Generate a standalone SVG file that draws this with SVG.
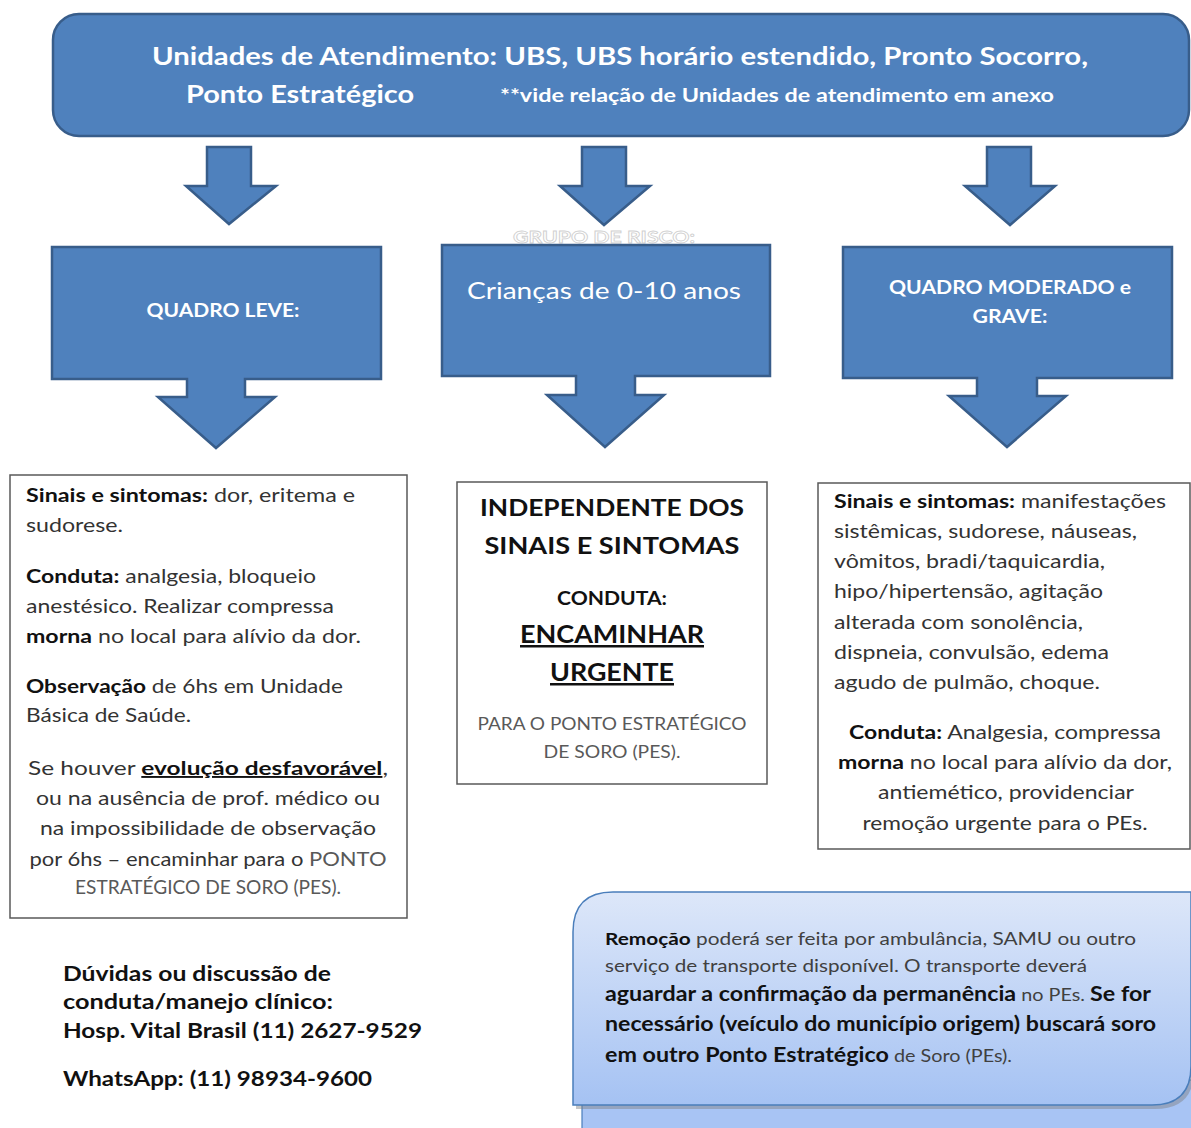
<svg xmlns="http://www.w3.org/2000/svg" width="1191" height="1128" viewBox="0 0 1191 1128">
<defs>
<linearGradient id="gBlue" x1="0" y1="0" x2="0" y2="1">
<stop offset="0" stop-color="#dde7f9"/>
<stop offset="1" stop-color="#a5c2f3"/>
</linearGradient>
<style>
text{font-family:Lato,"Liberation Sans",sans-serif;}
.blue{fill:#4f81bd;stroke:#385d8a;stroke-width:2.5;stroke-linejoin:miter;}
.wb{fill:#fff;font-weight:bold;}
.box{fill:#fff;stroke:#595959;stroke-width:1.5;}
.t{fill:#333;font-size:19px;}
.b{fill:#111;font-weight:bold;}
.g{fill:#595959;}
.u{text-decoration:underline;}
</style>
</defs>
<rect width="1191" height="1128" fill="#fff"/>

<g id="banner">
<rect x="53" y="14" width="1136" height="122" rx="26" class="blue" stroke-width="3"/>
<text class="wb" x="620" y="65" font-size="25" text-anchor="middle" textLength="936" lengthAdjust="spacingAndGlyphs">Unidades de Atendimento: UBS, UBS horário estendido, Pronto Socorro,</text>
<text class="wb" x="186" y="103" font-size="25" textLength="228" lengthAdjust="spacingAndGlyphs">Ponto Estratégico</text>
<text class="wb" x="500" y="102" font-size="19" textLength="554" lengthAdjust="spacingAndGlyphs">**vide relação de Unidades de atendimento em anexo</text>
</g>

<g id="connectors">
<path class="blue" d="M207,147 H251 V186 H276 L229,224 L186,186 H207 Z"/>
<path class="blue" d="M582,147 H626 V186 H650 L604,225 L560,186 H582 Z"/>
<path class="blue" d="M987,147 H1031 V186 H1055 L1010,225 L965,186 H987 Z"/>
</g>

<g id="quadro-leve">
<path class="blue" d="M52,247 H381 V379 H245 V397 H275 L216,448 L158,397 H187 V379 H52 Z"/>
<text class="wb" x="223" y="317" font-size="19" text-anchor="middle" textLength="153" lengthAdjust="spacingAndGlyphs">QUADRO LEVE:</text>
</g>

<g id="grupo-risco">
<text x="604" y="243" font-size="17" font-weight="bold" fill="#fff" stroke="#d0d0d0" stroke-width="0.8" text-anchor="middle" textLength="182" lengthAdjust="spacingAndGlyphs">GRUPO DE RISCO:</text>
</g>

<g id="criancas">
<path class="blue" d="M442,245 H770 V376 H635 V395 H664 L605,447 L547,395 H576 V376 H442 Z"/>
<text x="604" y="299" font-size="24" fill="#fff" text-anchor="middle" textLength="274" lengthAdjust="spacingAndGlyphs">Crianças de 0-10 anos</text>
</g>

<g id="quadro-moderado">
<path class="blue" d="M843,247 H1172 V378 H1037 V396 H1066 L1007,447 L949,396 H977 V378 H843 Z"/>
<text class="wb" x="1010" y="294" font-size="19" text-anchor="middle" textLength="242" lengthAdjust="spacingAndGlyphs">QUADRO MODERADO e</text>
<text class="wb" x="1010" y="323" font-size="19" text-anchor="middle" textLength="75" lengthAdjust="spacingAndGlyphs">GRAVE:</text>
</g>

<g id="leve-texto">
<rect class="box" x="10" y="475" width="397" height="443"/>
<text class="t" x="26" y="502" textLength="329" lengthAdjust="spacingAndGlyphs"><tspan class="b">Sinais e sintomas:</tspan> dor, eritema e</text>
<text class="t" x="26" y="532" textLength="97" lengthAdjust="spacingAndGlyphs">sudorese.</text>
<text class="t" x="26" y="583" textLength="290" lengthAdjust="spacingAndGlyphs"><tspan class="b">Conduta:</tspan> analgesia, bloqueio</text>
<text class="t" x="26" y="613" textLength="308" lengthAdjust="spacingAndGlyphs">anestésico. Realizar compressa</text>
<text class="t" x="26" y="643" textLength="335" lengthAdjust="spacingAndGlyphs"><tspan class="b">morna</tspan> no local para alívio da dor.</text>
<text class="t" x="26" y="693" textLength="317" lengthAdjust="spacingAndGlyphs"><tspan class="b">Observação</tspan> de 6hs em Unidade</text>
<text class="t" x="26" y="722" textLength="165" lengthAdjust="spacingAndGlyphs">Básica de Saúde.</text>
<text class="t" x="208" y="775" text-anchor="middle" textLength="360" lengthAdjust="spacingAndGlyphs">Se houver <tspan class="b u">evolução desfavorável</tspan>,</text>
<text class="t" x="208" y="805" text-anchor="middle" textLength="344" lengthAdjust="spacingAndGlyphs">ou na ausência de prof. médico ou</text>
<text class="t" x="208" y="835" text-anchor="middle" textLength="336" lengthAdjust="spacingAndGlyphs">na impossibilidade de observação</text>
<text class="t" x="208" y="866" text-anchor="middle" textLength="357" lengthAdjust="spacingAndGlyphs">por 6hs – encaminhar para o <tspan class="g">PONTO</tspan></text>
<text class="t g" x="208" y="894" text-anchor="middle" font-size="18" textLength="266" lengthAdjust="spacingAndGlyphs">ESTRATÉGICO DE SORO (PES).</text>
</g>

<g id="criancas-texto">
<rect class="box" x="457" y="482" width="310" height="302"/>
<text class="b" x="612" y="516" font-size="23" text-anchor="middle" textLength="264" lengthAdjust="spacingAndGlyphs">INDEPENDENTE DOS</text>
<text class="b" x="612" y="554" font-size="23" text-anchor="middle" textLength="255" lengthAdjust="spacingAndGlyphs">SINAIS E SINTOMAS</text>
<text class="b" x="612" y="605" font-size="19" text-anchor="middle" textLength="110" lengthAdjust="spacingAndGlyphs">CONDUTA:</text>
<text class="b u" x="612" y="643" font-size="25" text-anchor="middle" textLength="184" lengthAdjust="spacingAndGlyphs">ENCAMINHAR</text>
<text class="b u" x="612" y="681" font-size="25" text-anchor="middle" textLength="124" lengthAdjust="spacingAndGlyphs">URGENTE</text>
<text class="g" x="612" y="730" font-size="17" text-anchor="middle" textLength="269" lengthAdjust="spacingAndGlyphs">PARA O PONTO ESTRATÉGICO</text>
<text class="g" x="612" y="758" font-size="17" text-anchor="middle" textLength="137" lengthAdjust="spacingAndGlyphs">DE SORO (PES).</text>
</g>

<g id="moderado-texto">
<rect class="box" x="818" y="483" width="372" height="366"/>
<text class="t" x="834" y="508" textLength="332" lengthAdjust="spacingAndGlyphs"><tspan class="b">Sinais e sintomas:</tspan> manifestações</text>
<text class="t" x="834" y="538" textLength="303" lengthAdjust="spacingAndGlyphs">sistêmicas, sudorese, náuseas,</text>
<text class="t" x="834" y="568" textLength="271" lengthAdjust="spacingAndGlyphs">vômitos, bradi/taquicardia,</text>
<text class="t" x="834" y="598" textLength="269" lengthAdjust="spacingAndGlyphs">hipo/hipertensão, agitação</text>
<text class="t" x="834" y="629" textLength="249" lengthAdjust="spacingAndGlyphs">alterada com sonolência,</text>
<text class="t" x="834" y="659" textLength="275" lengthAdjust="spacingAndGlyphs">dispneia, convulsão, edema</text>
<text class="t" x="834" y="689" textLength="266" lengthAdjust="spacingAndGlyphs">agudo de pulmão, choque.</text>
<text class="t" x="1005" y="739" text-anchor="middle" textLength="312" lengthAdjust="spacingAndGlyphs"><tspan class="b">Conduta:</tspan> Analgesia, compressa</text>
<text class="t" x="1005" y="769" text-anchor="middle" textLength="334" lengthAdjust="spacingAndGlyphs"><tspan class="b">morna</tspan> no local para alívio da dor,</text>
<text class="t" x="1006" y="799" text-anchor="middle" textLength="256" lengthAdjust="spacingAndGlyphs">antiemético, providenciar</text>
<text class="t" x="1005" y="830" text-anchor="middle" textLength="285" lengthAdjust="spacingAndGlyphs">remoção urgente para o PEs.</text>
</g>

<g id="contato">
<text class="b" x="63" y="981" font-size="20" textLength="268" lengthAdjust="spacingAndGlyphs">Dúvidas ou discussão de</text>
<text class="b" x="63" y="1009" font-size="20" textLength="270" lengthAdjust="spacingAndGlyphs">conduta/manejo clínico:</text>
<text class="b" x="63" y="1038" font-size="20" textLength="359" lengthAdjust="spacingAndGlyphs">Hosp. Vital Brasil (11) 2627-9529</text>
<text class="b" x="63" y="1086" font-size="20" textLength="309" lengthAdjust="spacingAndGlyphs">WhatsApp: (11) 98934-9600</text>
</g>

<g id="remocao">
<rect x="582" y="1080" width="612" height="52" fill="#a8c4f4" stroke="#4a7ebb" stroke-width="1.2"/>
<path d="M576,936 Q576,896 616,896 H1194 V1070 Q1194,1109 1155,1109 H576 Z" fill="#7f7f7f" opacity="0.45"/>
<path d="M573,932 Q573,892 613,892 H1191 V1066 Q1191,1105 1152,1105 H573 Z" fill="url(#gBlue)" stroke="#4a7ebb" stroke-width="1.5"/>
<text x="605" y="945" font-size="17" fill="#404040" textLength="531" lengthAdjust="spacingAndGlyphs"><tspan class="b">Remoção</tspan> poderá ser feita por ambulância, SAMU ou outro</text>
<text x="605" y="972" font-size="17" fill="#404040" textLength="482" lengthAdjust="spacingAndGlyphs">serviço de transporte disponível. O transporte deverá</text>
<text x="605" y="1001" font-size="20" fill="#404040" textLength="546" lengthAdjust="spacingAndGlyphs"><tspan class="b">aguardar a confirmação da permanência</tspan><tspan font-size="17"> no PEs. </tspan><tspan class="b">Se for</tspan></text>
<text class="b" x="605" y="1031" font-size="20" textLength="551" lengthAdjust="spacingAndGlyphs">necessário (veículo do município origem) buscará soro</text>
<text x="605" y="1062" font-size="20" fill="#404040" textLength="407" lengthAdjust="spacingAndGlyphs"><tspan class="b">em outro Ponto Estratégico</tspan><tspan font-size="17"> de Soro (PEs).</tspan></text>
</g>
</svg>
